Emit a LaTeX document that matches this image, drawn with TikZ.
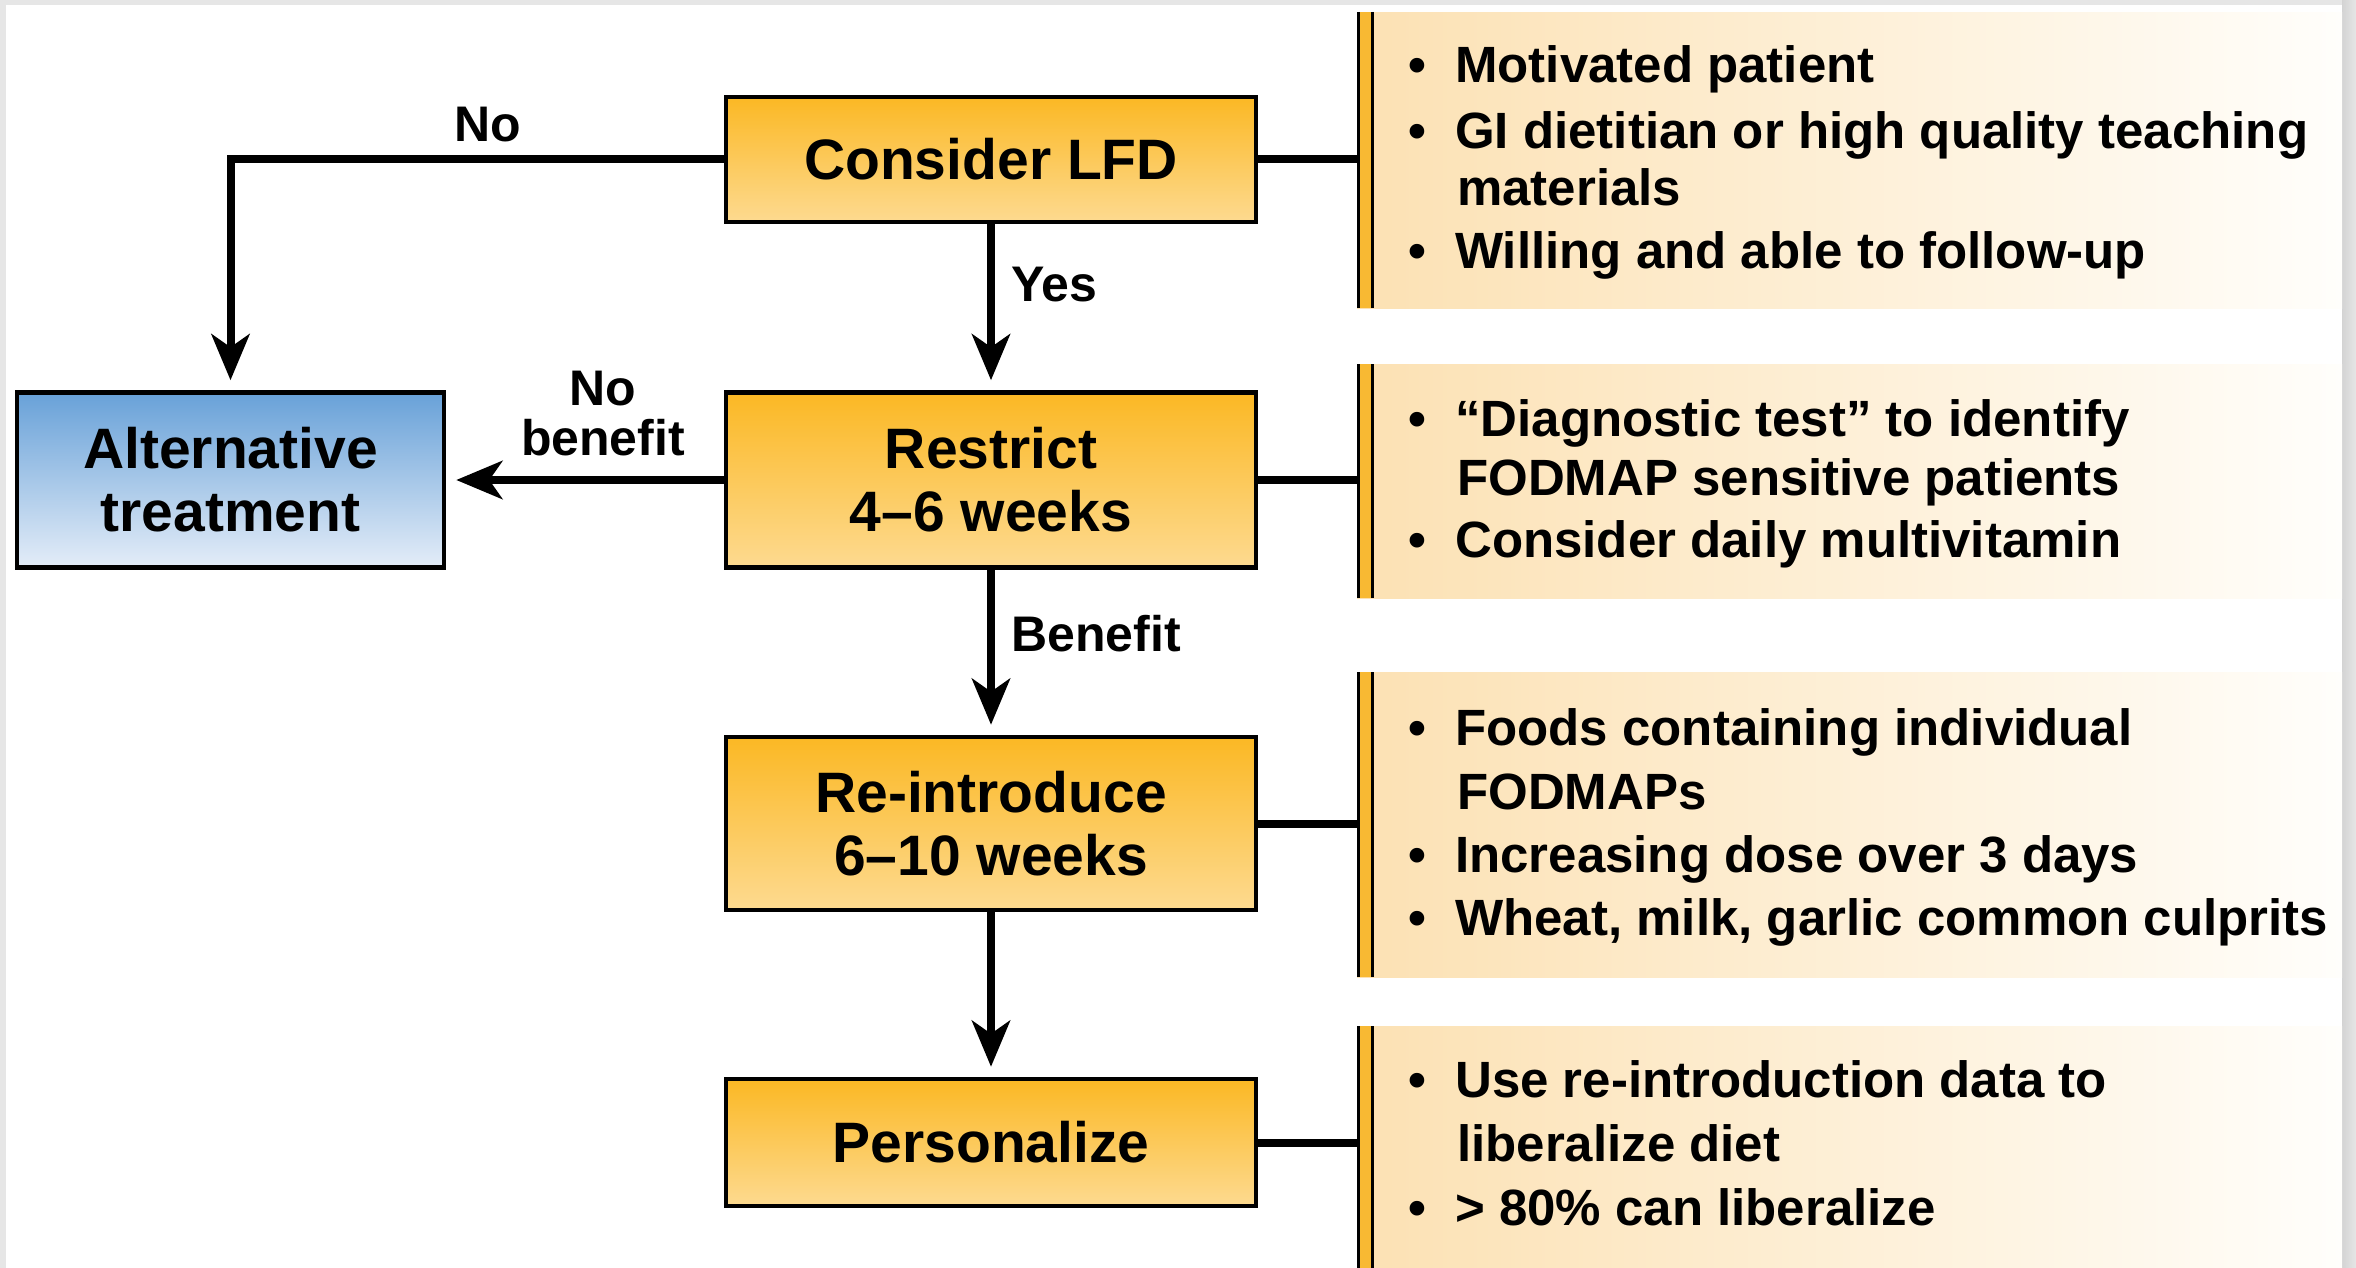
\documentclass[tikz,border=0pt]{standalone}
\usepackage{fontspec}
\setmainfont{Liberation Sans}
\usetikzlibrary{arrows.meta}
\definecolor{boxtop}{HTML}{FBB824}
\definecolor{boxbot}{HTML}{FDDA90}
\definecolor{alttop}{HTML}{68A1D8}
\definecolor{altbot}{HTML}{E4EDF8}
\definecolor{panell}{HTML}{FCE1B3}
\definecolor{panelr}{HTML}{FFFEFB}
\definecolor{baryel}{HTML}{F8B933}
\definecolor{framegray}{HTML}{E6E6E6}
\definecolor{shadowgray}{HTML}{A8A8A8}

\newcommand\pitem[3]{%
  \node[ptext,anchor=base west] (#1) at (1455,#2) {#3};
  \node[ptext,anchor=base] (#1b) at (1417,#2) {\textbullet};}
\newcommand\pcont[3]{%
  \node[ptext,anchor=base west] (#1) at (1457,#2) {#3};}

\begin{document}
\begin{tikzpicture}[x=1pt,y=-1pt,
  stepbox/.style={draw=black,line width=4.5pt,top color=boxtop,bottom color=boxbot,
    minimum width=530pt,align=center,inner sep=0pt,
    font=\bfseries\fontsize{57}{63}\selectfont},
  altbox/.style={stepbox,top color=alttop,bottom color=altbot,minimum width=427pt},
  conn/.style={line width=8pt},
  arr/.style={conn,-{Stealth[length=46pt,width=38pt,inset=13pt]},shorten >=10pt},
  lbl/.style={font=\bfseries\fontsize{50}{50}\selectfont,inner sep=0pt,align=center},
  ptext/.style={font=\bfseries\fontsize{51}{56}\selectfont,inner sep=0pt},
  panel/.style={draw=none,left color=panell,right color=panelr,minimum width=985pt,
    inner sep=0pt,anchor=north west}]
\useasboundingbox (0,0) rectangle (2356,1268);
\fill[white] (0,0) rectangle (2356,1268);
% frame
\fill[framegray] (0,0) rectangle (6,1268);
\fill[framegray] (0,0) rectangle (2356,5);
\shade[left color=framegray!70!shadowgray,right color=framegray] (2342,0) rectangle (2356,1268);

% panels
\node[panel,minimum height=296pt] (p1) at (1357,12) {};
\node[panel,minimum height=234pt] (p2) at (1357,364) {};
\node[panel,minimum height=305pt] (p3) at (1357,672) {};
\node[panel,minimum height=242pt] (p4) at (1357,1026) {};
\foreach \p in {p1,p2,p3,p4}{
  \fill[baryel] ([xshift=3pt]\p.north west) rectangle ([xshift=14pt]\p.south west);
  \draw[line width=3pt] ([xshift=1.5pt]\p.north west) -- ([xshift=1.5pt]\p.south west);
  \draw[line width=3pt] ([xshift=15.5pt]\p.north west) -- ([xshift=15.5pt]\p.south west);
}

% boxes
\node[stepbox,minimum height=125pt] (c1) at (991,159.5) {Consider LFD};
\node[stepbox,minimum height=175pt] (c2) at (991,480) {Restrict\\4--6 weeks};
\node[stepbox,minimum height=173pt] (c3) at (991,823.5) {Re-introduce\\6--10 weeks};
\node[stepbox,minimum height=127pt] (c4) at (991,1142.5) {Personalize};
\node[altbox,minimum height=175pt] (alt) at (230.5,480) {Alternative\\treatment};

% connectors
\draw[arr] (c1.west) -| (alt.north);
\draw[arr] (c1.south) -- (c2.north);
\draw[arr] (c2.west) -- (alt.east);
\draw[arr] (c2.south) -- (c3.north);
\draw[arr] (c3.south) -- (c4.north);
\draw[conn] (c1.east) -- (c1.east -| p1.west);
\draw[conn] (c2.east) -- (c2.east -| p2.west);
\draw[conn] (c3.east) -- (c3.east -| p3.west);
\draw[conn] (c4.east) -- (c4.east -| p4.west);

% labels
\node[lbl] (lno) at (488,125) {No};
\node[lbl,anchor=west] (lyes) at (1011,285) {Yes};
\node[lbl] (lnob) at (603,414) {No\\benefit};
\node[lbl,anchor=west] (lben) at (1011,634) {Benefit};

% panel texts
\pitem{t11}{83}{Motivated patient}
\pitem{t12}{149}{GI dietitian or high quality teaching}
\pcont{t13}{206}{materials}
\pitem{t14}{269}{Willing and able to follow-up}

\pitem{t21}{436}{``Diagnostic test'' to identify}
\pcont{t22}{495}{FODMAP sensitive patients}
\pitem{t23}{557}{Consider daily multivitamin}

\pitem{t31}{745}{Foods containing individual}
\pcont{t32}{809}{FODMAPs}
\pitem{t33}{872}{Increasing dose over 3 days}
\pitem{t34}{935}{Wheat, milk, garlic common culprits}

\pitem{t41}{1097}{Use re-introduction data to}
\pcont{t42}{1161}{liberalize diet}
\pitem{t43}{1225}{> 80\% can liberalize}
\end{tikzpicture}
\end{document}
